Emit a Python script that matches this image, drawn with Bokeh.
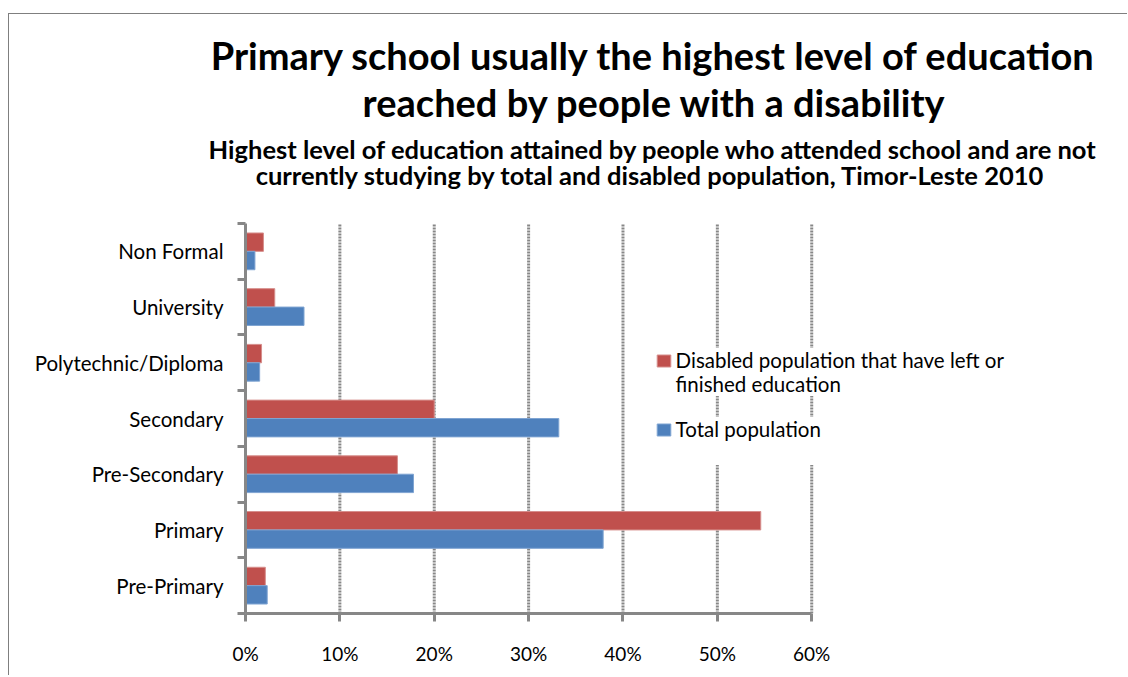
from bokeh.plotting import figure
from bokeh.layouts import column
from bokeh.models import (Range1d, LinearAxis, FixedTicker, PrintfTickFormatter, Label,
                          Legend, LegendItem, ColumnDataSource)
from bokeh.transform import dodge
from bokeh.embed import file_html
from bokeh.resources import INLINE

# ---- data ----
categories = ["Pre-Primary", "Primary", "Pre-Secondary", "Secondary",
              "Polytechnic/Diploma", "University", "Non Formal"]
disabled = [2.1, 54.6, 16.1, 20.0, 1.7, 3.1, 1.9]
total = [2.3, 37.9, 17.8, 33.2, 1.5, 6.2, 1.0]
x_ticks = [0, 10, 20, 30, 40, 50, 60]
series_names = ["Disabled population that have left or", "finished education", "Total population"]
colors = ["#C0504D", "#4F81BD"]
edge_colors = ["#D68E8C", "#7FA4D2"]

title_lines = ["Primary school usually the highest level of education",
               "reached by people with a disability"]
subtitle_lines = ["Highest level of education attained by people who attended school and are not",
                  "currently studying by total and disabled population, Timor-Leste 2010"]

FONT = "Lato"
GRAY = "#878787"
n = len(categories)

# ---------------- title block ----------------
tf = figure(width=1118, height=186, x_range=Range1d(0, 1), y_range=Range1d(0, 1),
            x_axis_type=None, y_axis_type=None, output_backend="svg", toolbar_location=None,
            min_border=0, frame_align=False)
tf.outline_line_color = None
tf.grid.visible = False
title_specs = [(title_lines[0], 644, 145.5, "38px"),
               (title_lines[1], 645, 98.5, "38px"),
               (subtitle_lines[0], 643.5, 51.5, "25.5px"),
               (subtitle_lines[1], 641, 26, "25.5px")]
for txt, x, y, fs in title_specs:
    tf.add_layout(Label(x=x, y=y, x_units="screen", y_units="screen", text=txt,
                        text_align="center", text_baseline="alphabetic",
                        text_font=FONT, text_font_style="bold", text_font_size=fs,
                        text_color="black"))

# ---------------- chart ----------------
pos = [i + 0.5 for i in range(n)]
src = ColumnDataSource(dict(cat=categories, pos=pos, disabled=disabled, total=total))
grid_src = ColumnDataSource(dict(x=x_ticks[1:], y0=[0] * (len(x_ticks) - 1),
                                 y1=[n] * (len(x_ticks) - 1)))

p = figure(width=1118, height=475,
           x_range=Range1d(0, 90.6), y_range=Range1d(0, 7.1436),
           x_axis_type=None, y_axis_type=None,
           output_backend="svg", toolbar_location=None, frame_align=False,
           min_border_left=236, min_border_right=27,
           min_border_top=15, min_border_bottom=62)
p.outline_line_color = None
p.background_fill_color = "white"
p.border_fill_color = "white"

# vertical gridlines at the x ticks, spanning the category area
p.segment(x0="x", y0="y0", x1="x", y1="y1", source=grid_src,
          line_color=GRAY, line_width=3, line_dash="2 1")

# bars
r_dis = p.hbar(y=dodge("pos", 0.165, range=p.y_range), left=0, right="disabled", height=0.33,
               source=src, fill_color=colors[0], line_color=edge_colors[0], line_width=1)
r_tot = p.hbar(y=dodge("pos", -0.165, range=p.y_range), left=0, right="total", height=0.33,
               source=src, fill_color=colors[1], line_color=edge_colors[1], line_width=1)

# x axis
xax = LinearAxis(ticker=FixedTicker(ticks=x_ticks), formatter=PrintfTickFormatter(format="%d%%"),
                 bounds=(x_ticks[0], x_ticks[-1]))
xax.axis_line_color = GRAY
xax.axis_line_width = 3
xax.major_tick_line_color = GRAY
xax.major_tick_line_width = 3
xax.major_tick_out = 8
xax.major_tick_in = 0
xax.minor_tick_line_color = None
xax.major_label_standoff = 20
xax.major_label_text_font = FONT
xax.major_label_text_font_size = "19px"
xax.major_label_text_color = "black"
p.add_layout(xax, "below")

# y axis: boundary ticks
yax_ticks = LinearAxis(ticker=FixedTicker(ticks=list(range(n + 1))),
                       major_label_overrides={i: "" for i in range(n + 1)},
                       bounds=(0, n))
yax_ticks.axis_line_color = GRAY
yax_ticks.axis_line_width = 3
yax_ticks.major_tick_line_color = GRAY
yax_ticks.major_tick_line_width = 3
yax_ticks.major_tick_out = 8
yax_ticks.major_tick_in = 0
yax_ticks.minor_tick_line_color = None
yax_ticks.major_label_standoff = 0
yax_ticks.major_label_text_font_size = "0px"
p.add_layout(yax_ticks, "left")

# y axis: category labels
yax_lab = LinearAxis(ticker=FixedTicker(ticks=pos),
                     major_label_overrides={pp: c for pp, c in zip(pos, categories)},
                     bounds=(0, n))
yax_lab.axis_line_color = None
yax_lab.major_tick_line_color = None
yax_lab.minor_tick_line_color = None
yax_lab.major_tick_out = 0
yax_lab.major_tick_in = 0
yax_lab.major_label_standoff = 14
yax_lab.major_label_text_font = FONT
yax_lab.major_label_text_font_size = "20.5px"
yax_lab.major_label_text_color = "black"
p.add_layout(yax_lab, "left")


def style_legend(lg):
    lg.background_fill_color = "white"
    lg.background_fill_alpha = 1
    lg.border_line_color = None
    lg.padding = 14
    lg.spacing = 0
    lg.glyph_width = 17
    lg.glyph_height = 15
    lg.label_standoff = 4
    lg.label_text_font = FONT
    lg.label_text_font_size = "20.5px"
    lg.label_text_line_height = 1.12
    lg.label_text_color = "black"


legend2 = Legend(items=[LegendItem(label=series_names[2], renderers=[r_tot]),
                        LegendItem(label="\u00a0", renderers=[])],
                 location=(409.6, 148))
style_legend(legend2)
p.add_layout(legend2, "center")

legend1 = Legend(items=[LegendItem(label=series_names[0], renderers=[r_dis]),
                        LegendItem(label=series_names[1], renderers=[])],
                 location=(409.6, 217))
style_legend(legend1)
p.add_layout(legend1, "center")

layout = column(tf, p, spacing=0)
layout.styles = {"border-top": "1px solid #7f7f7f", "border-left": "1px solid #7f7f7f",
                 "margin-top": "13px", "margin-left": "8px"}

open("out.html", "w").write(file_html(layout, INLINE))
